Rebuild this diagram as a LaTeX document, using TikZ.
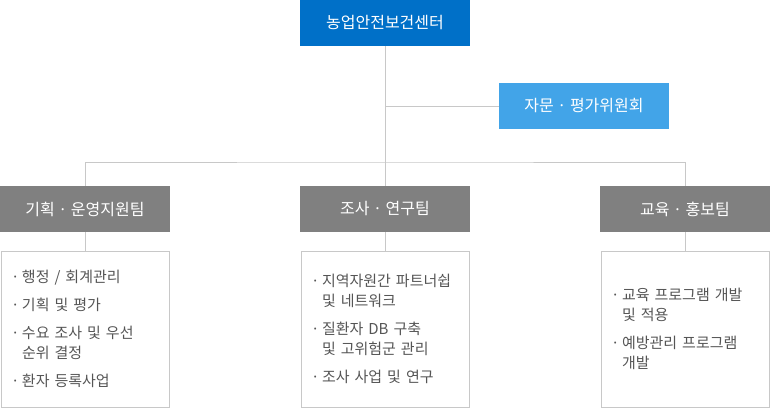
\documentclass[tikz,border=0pt]{standalone}
\usepackage{fontspec}
\setmainfont{Noto Sans CJK KR}
\usepackage{tikz}
\usepackage{xcolor}
\definecolor{centerblue}{RGB}{0,112,200}
\definecolor{advisoryblue}{RGB}{66,164,232}
\definecolor{teamgray}{RGB}{128,128,128}
\definecolor{linegray}{RGB}{200,200,200}
\definecolor{textgray}{RGB}{85,85,85}
\newcommand{\bul}{\makebox[11pt][l]{·}}
\newcommand{\ind}{\hspace*{11pt}}

\begin{document}
\begin{tikzpicture}[x=1pt, y=-1pt,
    headbox/.style={minimum width=170pt, minimum height=46pt, inner sep=0pt, text=white, font=\fontsize{16}{19}\selectfont},
    teambox/.style={headbox, fill=teamgray},
    listbox/.style={draw=linegray, line width=1pt, minimum width=168pt, minimum height=156pt, inner xsep=10pt, text width=148pt, align=left, text=textgray, font=\fontsize{15}{20}\selectfont},
    link/.style={draw=linegray, line width=1pt}
]
\useasboundingbox (0,0) rectangle (770,408);

% Center and committee
\node[headbox, fill=centerblue] (center) at (385,23) {농업안전보건센터};
\node[headbox, fill=advisoryblue] (advisory) at (584,106) {자문 · 평가위원회};

% Teams
\node[teambox] (plan) at (85,209) {기획 · 운영지원팀};
\node[teambox] (survey) at (385,209) {조사 · 연구팀};
\node[teambox] (edu) at (685,209) {교육 · 홍보팀};

% Task lists
\node[listbox] (plantasks) at (85,329) {\bul 행정 / 회계관리\\[8pt]
    \bul 기획 및 평가\\[8pt]
    \bul 수요 조사 및 우선\\ \ind 순위 결정\\[8pt]
    \bul 환자 등록사업};
\node[listbox] (surveytasks) at (385,329) {\bul 지역자원간 파트너쉽\\ \ind 및 네트워크\\[8pt]
    \bul 질환자 DB 구축\\ \ind 및 고위험군 관리\\[8pt]
    \bul 조사 사업 및 연구};
\node[listbox] (edutasks) at (685,329) {\bul 교육 프로그램 개발\\ \ind 및 적용\\[8pt]
    \bul 예방관리 프로그램\\ \ind 개발};

% Connectors
\coordinate (branch) at (385,162);
\draw[link] (center) -- (survey);
\draw[link] (advisory) -- (advisory -| center);
\draw[link] (plan) |- (branch) -| (edu);
\draw[link] (plan) -- (plantasks);
\draw[link] (survey) -- (surveytasks);
\draw[link] (edu) -- (edutasks);
\end{tikzpicture}
\end{document}
